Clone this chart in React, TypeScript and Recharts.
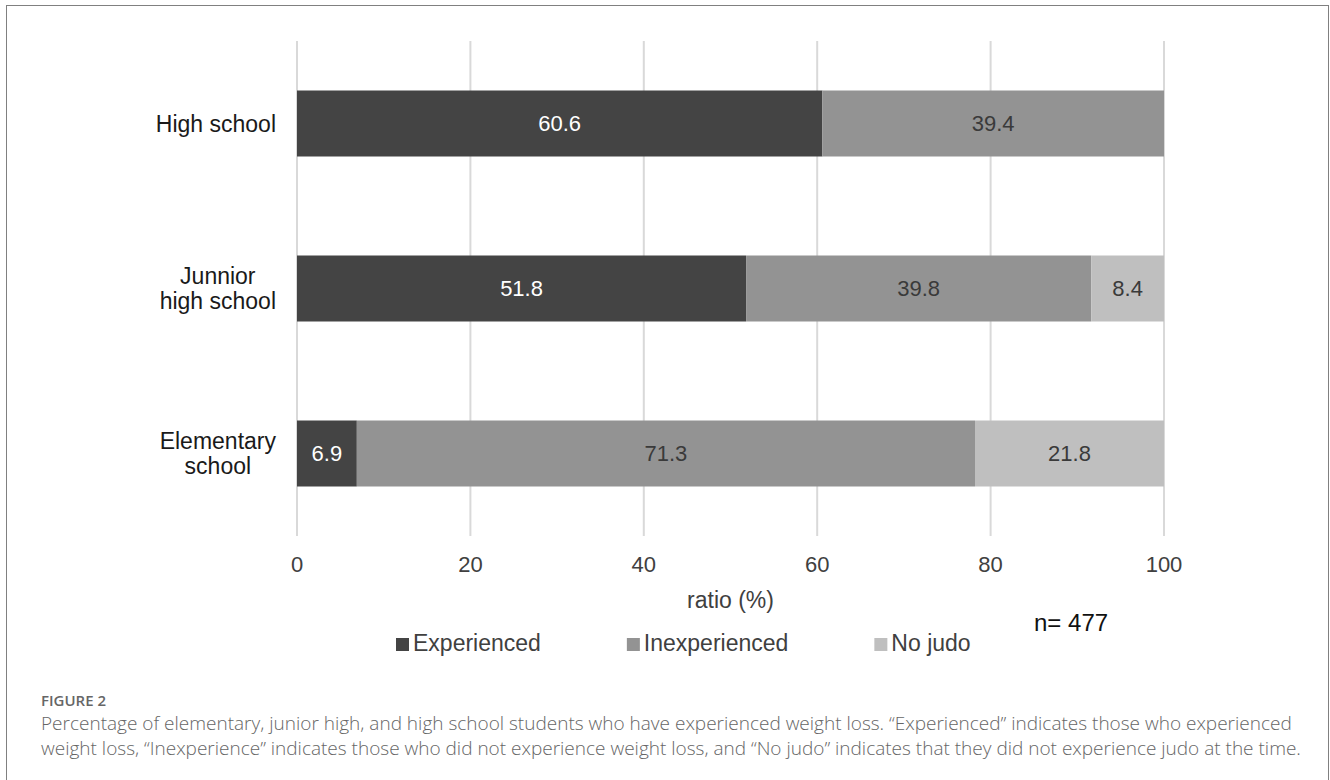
import { BarChart, Bar, XAxis, YAxis, CartesianGrid, LabelList } from "recharts";

const categories = ["High school", "Junnior\nhigh school", "Elementary\nschool"];
const experienced = [60.6, 51.8, 6.9];
const inexperienced = [39.4, 39.8, 71.3];
const noJudo = [0, 8.4, 21.8];
const xTicks = [0, 20, 40, 60, 80, 100];

const seriesKeys = ["experienced", "inexperienced", "noJudo"];
const seriesNames = ["Experienced", "Inexperienced", "No judo"];
const seriesColors = ["#444444", "#939393", "#bfbfbf"];
const labelColors = ["#ffffff", "#3a3a3a", "#3a3a3a"];

const sampleSize = "n= 477";
const figureTitle = "FIGURE 2";
const captionLines = [
  "Percentage of elementary, junior high, and high school students who have experienced weight loss. \u201cExperienced\u201d indicates those who experienced",
  "weight loss, \u201cInexperience\u201d indicates those who did not experience weight loss, and \u201cNo judo\u201d indicates that they did not experience judo at the time.",
];

const chartData = categories.map((name, i) => ({
  name,
  experienced: experienced[i],
  inexperienced: inexperienced[i],
  noJudo: noJudo[i],
}));

const SANS = "'Liberation Sans', Arial, sans-serif";
const CAPTION_FONT = "'Open Sans', 'Noto Sans', sans-serif";

let ctx: CanvasRenderingContext2D | null = null;
function textWidth(s: string, font: string) {
  if (!ctx) ctx = document.createElement("canvas").getContext("2d");
  if (!ctx) return s.length * 11;
  ctx.font = font;
  return ctx.measureText(s).width;
}

function CategoryTick({ x, y, payload }: any) {
  const lines = String(payload.value).split("\n");
  const widest = Math.max(...lines.map((l) => textWidth(l, `23px ${SANS}`)));
  const cx = x - widest / 2;
  return (
    <g>
      {lines.map((line, i) => (
        <text
          key={i}
          x={cx}
          y={y + (i - (lines.length - 1) / 2) * 25 + 8}
          textAnchor="middle"
          fontSize={23}
          fill="#1a1a1a"
          fontFamily={SANS}
        >
          {line}
        </text>
      ))}
    </g>
  );
}

function hideZero(v: any) {
  return v ? v : "";
}

export default function App() {
  // legend items laid out from left to right
  let lx = 396;
  const legendItems = seriesNames.map((name, i) => {
    const item = { name, color: seriesColors[i], x: lx };
    lx += 17 + textWidth(name, `23px ${SANS}`) + 86;
    return item;
  });

  return (
    <div
      style={{
        position: "absolute",
        left: 0,
        top: 0,
        width: 1330,
        height: 780,
        overflow: "hidden",
        background: "#fff",
        fontFamily: SANS,
      }}
    >
      <div
        style={{
          position: "absolute",
          left: 6,
          top: 5,
          width: 1323,
          height: 820,
          border: "1px solid #808080",
          boxSizing: "border-box",
        }}
      />

      <div style={{ position: "absolute", left: 0, top: 0 }}>
        <BarChart
          width={1330}
          height={620}
          data={chartData}
          layout="vertical"
          barCategoryGap="30%"
          margin={{ top: 41, right: 166, left: 17, bottom: 44 }}
        >
          <CartesianGrid horizontal={false} stroke="#d9d9d9" strokeWidth={2} />
          <XAxis
            type="number"
            domain={[0, 100]}
            ticks={xTicks}
            interval={0}
            axisLine={false}
            tickLine={false}
            tickMargin={14}
            height={40}
            tick={{ fontSize: 22, fill: "#404040", fontFamily: SANS }}
            label={{
              value: "ratio (%)",
              position: "bottom",
              offset: 16,
              fontSize: 23,
              fill: "#404040",
              fontFamily: SANS,
            }}
          />
          <YAxis
            type="category"
            dataKey="name"
            width={280}
            axisLine={false}
            tickLine={false}
            tickSize={0}
            tickMargin={21}
            interval={0}
            tick={(p: any) => <CategoryTick {...p} />}
          />
          {seriesKeys.map((key, i) => (
            <Bar
              key={key}
              dataKey={key}
              name={seriesNames[i]}
              stackId="a"
              fill={seriesColors[i]}
              isAnimationActive={false}
            >
              <LabelList
                dataKey={key}
                position="center"
                fill={labelColors[i]}
                fontSize={22}
                fontFamily={SANS}
                formatter={hideZero}
              />
            </Bar>
          ))}
        </BarChart>
      </div>

      <svg
        width={1330}
        height={780}
        style={{ position: "absolute", left: 0, top: 0, pointerEvents: "none" }}
      >
        <text x={1034} y={631} fontSize={24} fill="#111" fontFamily={SANS}>
          {sampleSize}
        </text>

        {legendItems.map((item) => (
          <g key={item.name}>
            <rect x={item.x} y={638} width={13} height={13} fill={item.color} />
            <text x={item.x + 17} y={651} fontSize={23} fill="#404040" fontFamily={SANS}>
              {item.name}
            </text>
          </g>
        ))}

        <text
          x={41}
          y={706}
          fontSize={15}
          fontWeight={600}
          fill="#666"
          fontFamily={CAPTION_FONT}
        >
          {figureTitle}
        </text>
        {captionLines.map((line, i) => (
          <text
            key={i}
            x={41}
            y={730 + i * 25}
            fontSize={19}
            fontWeight={300}
            fill="#666"
            fontFamily={CAPTION_FONT}
          >
            {line}
          </text>
        ))}
      </svg>
    </div>
  );
}
